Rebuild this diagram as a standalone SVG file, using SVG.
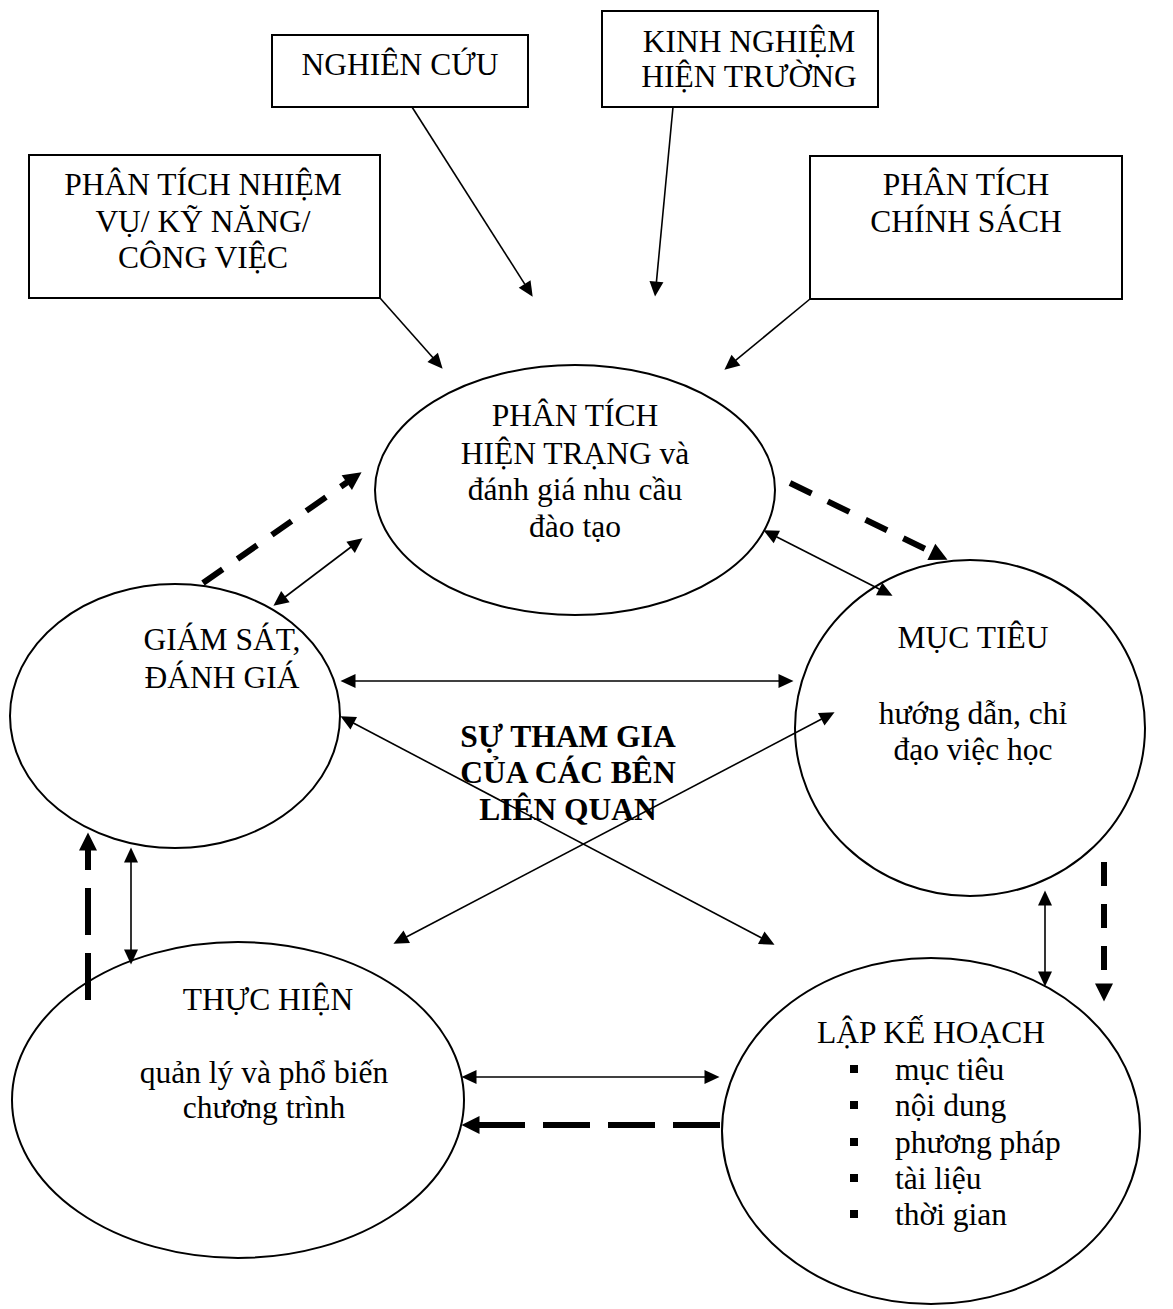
<svg xmlns="http://www.w3.org/2000/svg" width="1173" height="1309" viewBox="0 0 1173 1309">
  <defs>
    <style>
      .box{fill:#fff;stroke:#000;stroke-width:2}
      .node{fill:none;stroke:#000;stroke-width:2}
      text{font-family:"Liberation Serif","Times New Roman",serif;font-size:31.5px;fill:#000;text-anchor:middle}
      .b{font-weight:bold}
      .l{text-anchor:start}
      .thin{stroke:#000;stroke-width:1.6;fill:none}
      .one{marker-end:url(#head)}
      .two{marker-start:url(#head);marker-end:url(#head)}
      .dash{stroke:#000;stroke-width:6;stroke-dasharray:24 18;fill:none;marker-end:url(#headBig)}
      .long{stroke-dasharray:47 18}
    </style>
    <marker id="head" markerUnits="userSpaceOnUse" viewBox="0 -8 16 16" markerWidth="16" markerHeight="16" refX="0.5" refY="0" orient="auto-start-reverse" overflow="visible">
      <path d="M0,-7 L15,0 L0,7 z" fill="#000"/>
    </marker>
    <marker id="headBig" markerUnits="userSpaceOnUse" viewBox="0 -10 20 20" markerWidth="20" markerHeight="20" refX="0.5" refY="0" orient="auto" overflow="visible">
      <path d="M0,-9 L18,0 L0,9 z" fill="#000"/>
    </marker>
  </defs>

  <rect width="1173" height="1309" fill="#fff"/>

  <!-- source boxes -->
  <g id="box-nhiem-vu">
    <rect class="box" x="29" y="155" width="351" height="143"/>
    <text x="203" y="195">PHÂN TÍCH NHIỆM</text>
    <text x="203" y="232">VỤ/ KỸ NĂNG/</text>
    <text x="203" y="268">CÔNG VIỆC</text>
  </g>
  <g id="box-nghien-cuu">
    <rect class="box" x="272" y="35" width="256" height="72"/>
    <text x="400" y="75">NGHIÊN CỨU</text>
  </g>
  <g id="box-kinh-nghiem">
    <rect class="box" x="602" y="11" width="276" height="96"/>
    <text x="749" y="52">KINH NGHIỆM</text>
    <text x="749" y="87">HIỆN TRƯỜNG</text>
  </g>
  <g id="box-chinh-sach">
    <rect class="box" x="810" y="156" width="312" height="143"/>
    <text x="966" y="195">PHÂN TÍCH</text>
    <text x="966" y="232">CHÍNH SÁCH</text>
  </g>

  <!-- cycle stages -->
  <g id="node-phan-tich">
    <ellipse class="node" cx="575" cy="490" rx="200" ry="125"/>
    <text x="575" y="426">PHÂN TÍCH</text>
    <text x="575" y="464">HIỆN TRẠNG và</text>
    <text x="575" y="500">đánh giá nhu cầu</text>
    <text x="575" y="537">đào tạo</text>
  </g>
  <g id="node-giam-sat">
    <ellipse class="node" cx="175" cy="716" rx="165" ry="132"/>
    <text x="222" y="650">GIÁM SÁT,</text>
    <text x="222" y="688">ĐÁNH GIÁ</text>
  </g>
  <g id="node-muc-tieu">
    <ellipse class="node" cx="970" cy="728" rx="175" ry="168"/>
    <text x="973" y="648">MỤC TIÊU</text>
    <text x="973" y="724">hướng dẫn, chỉ</text>
    <text x="973" y="760">đạo việc học</text>
  </g>
  <g id="node-thuc-hien">
    <ellipse class="node" cx="238" cy="1100" rx="226" ry="158"/>
    <text x="268" y="1010">THỰC HIỆN</text>
    <text x="264" y="1083">quản lý và phổ biến</text>
    <text x="264" y="1118">chương trình</text>
  </g>
  <g id="node-lap-ke-hoach">
    <ellipse class="node" cx="931" cy="1131" rx="209" ry="173"/>
    <text x="931" y="1043">LẬP KẾ HOẠCH</text>
    <g fill="#000">
      <rect x="850" y="1065" width="8" height="8"/>
      <rect x="850" y="1101" width="8" height="8"/>
      <rect x="850" y="1138" width="8" height="8"/>
      <rect x="850" y="1174" width="8" height="8"/>
      <rect x="850" y="1210" width="8" height="8"/>
    </g>
    <text class="l" x="895" y="1080">mục tiêu</text>
    <text class="l" x="895" y="1116">nội dung</text>
    <text class="l" x="895" y="1153">phương pháp</text>
    <text class="l" x="895" y="1189">tài liệu</text>
    <text class="l" x="895" y="1225">thời gian</text>
  </g>

  <g id="center-label">
    <text class="b" x="568" y="747">SỰ THAM GIA</text>
    <text class="b" x="568" y="783">CỦA CÁC BÊN</text>
    <text class="b" x="568" y="820">LIÊN QUAN</text>
  </g>

  <!-- connectors -->
  <g id="connectors">
    <line class="thin one" x1="380" y1="298" x2="433" y2="357.8"/>
    <line class="thin one" x1="412" y1="107" x2="524.9" y2="284.4"/>
    <line class="thin one" x1="673" y1="107" x2="656.4" y2="282.1"/>
    <line class="thin one" x1="810" y1="299" x2="735.6" y2="360.4"/>

    <line class="thin two" x1="285" y1="597" x2="351" y2="547"/>
    <line class="thin two" x1="776.4" y1="536.8" x2="879.6" y2="589.2"/>
    <line class="thin two" x1="355" y1="681" x2="779" y2="681"/>
    <line class="thin two" x1="353.3" y1="723" x2="761.7" y2="938"/>
    <line class="thin two" x1="821.7" y1="719" x2="406.3" y2="937"/>
    <line class="thin two" x1="131" y1="862" x2="131" y2="950"/>
    <line class="thin two" x1="1045" y1="905" x2="1045" y2="972"/>
    <line class="thin two" x1="476" y1="1077" x2="705" y2="1077"/>

    <line class="dash" x1="203" y1="583" x2="347.2" y2="482.3"/>
    <line class="dash" x1="790" y1="483" x2="931.8" y2="552.1"/>
    <line class="dash long" x1="88" y1="1000" x2="88" y2="850"/>
    <line class="dash" x1="1104" y1="862" x2="1104" y2="984"/>
    <line class="dash long" x1="720" y1="1125" x2="479" y2="1125"/>
  </g>
</svg>
